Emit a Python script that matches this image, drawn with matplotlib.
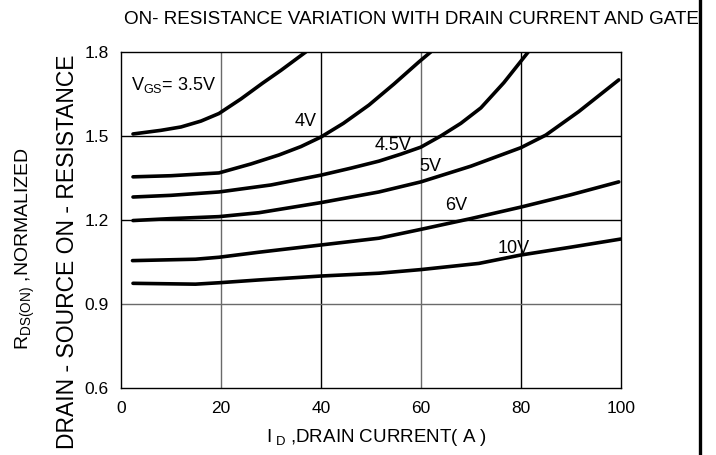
import matplotlib
matplotlib.use("Agg")
import matplotlib.pyplot as plt

plt.rcParams['font.family'] = ['Liberation Sans', 'DejaVu Sans']
plt.rcParams['mathtext.fontset'] = 'custom'
plt.rcParams['mathtext.rm'] = 'Liberation Sans'
plt.rcParams['mathtext.it'] = 'Liberation Sans'

# drain current (A) / normalized R_DS(on)
id_35 = [2.4, 8, 12, 16, 19.6, 24, 28.3, 32, 37]
r_35 = [1.507, 1.52, 1.532, 1.553, 1.58, 1.632, 1.688, 1.734, 1.80]

id_4 = [2.4, 10, 19.6, 26, 31.6, 36, 40, 44.5, 49.6, 54.6, 59.6, 62]
r_4 = [1.354, 1.358, 1.368, 1.40, 1.432, 1.462, 1.496, 1.545, 1.61, 1.685, 1.764, 1.80]

id_45 = [2.4, 10, 19.6, 30, 40, 46, 51.6, 56, 60, 64, 68, 72, 76.6, 81.5]
r_45 = [1.282, 1.288, 1.30, 1.325, 1.36, 1.385, 1.41, 1.435, 1.46, 1.50, 1.545, 1.60, 1.69, 1.80]

id_5 = [2.4, 10, 19.6, 27.6, 40, 51.6, 60, 70, 80, 85, 91.6, 99.6]
r_5 = [1.198, 1.205, 1.212, 1.226, 1.262, 1.30, 1.336, 1.392, 1.458, 1.503, 1.587, 1.70]

id_6 = [2.3, 14.9, 19.6, 27.6, 40.1, 51.6, 59.6, 70, 80, 90, 99.6]
r_6 = [1.055, 1.060, 1.067, 1.085, 1.111, 1.135, 1.165, 1.205, 1.246, 1.29, 1.336]

id_10 = [2.4, 14.9, 19.6, 27.6, 40, 51.6, 60, 71.6, 80, 90, 100]
r_10 = [0.974, 0.971, 0.976, 0.986, 1.0, 1.010, 1.023, 1.045, 1.075, 1.103, 1.132]

curves = [(id_35, r_35), (id_4, r_4), (id_45, r_45), (id_5, r_5), (id_6, r_6), (id_10, r_10)]

labels = [r'V$_{\mathrm{GS}}$= 3.5V', '4V', '4.5V', '5V', '6V', '10V']
label_x = [2, 37, 54.5, 61.8, 67, 78.5]
label_y = [1.68, 1.55, 1.465, 1.39, 1.25, 1.10]

x_ticks = [0, 20, 40, 60, 80, 100]
y_ticks = [0.6, 0.9, 1.2, 1.5, 1.8]

fig = plt.figure(figsize=(7.16, 4.55), dpi=100)
ax = fig.add_axes([0.169, 0.147, 0.698, 0.739])

# grid, some lines black and some grey like the scan
for xv, c in zip([20, 40, 60, 80], ['#6a6a6a', 'black', '#6a6a6a', 'black']):
    ax.axvline(xv, color=c, lw=1, zorder=1)
for yv, c in zip([0.9, 1.2, 1.5], ['#6a6a6a', 'black', 'black']):
    ax.axhline(yv, color=c, lw=1, zorder=1)

for xs, ys in curves:
    ax.plot(xs, ys, color='black', lw=2.6, solid_capstyle='round', zorder=3)

for t, lx, ly in zip(labels, label_x, label_y):
    ax.text(lx, ly, t, fontsize=13, ha='left' if lx < 10 else 'center', va='center', zorder=4)

ax.set_xlim(0, 100)
ax.set_ylim(0.6, 1.8)
ax.set_xticks(x_ticks)
ax.set_yticks(y_ticks)
ax.set_yticklabels(['%.1f' % v for v in y_ticks])
ax.tick_params(length=0, labelsize=12.5, pad=9)
for s in ax.spines.values():
    s.set_color('black')
    s.set_linewidth(1)

fig.text(124 / 716, 1 - 20 / 455, 'ON- RESISTANCE VARIATION WITH DRAIN CURRENT AND GATE',
         fontsize=13.6, ha='left', va='center')
fig.text(376 / 716, 1 - 438 / 455, r'$\mathrm{I_{{\ }D}}$ ,DRAIN CURRENT( A )',
         fontsize=13.5, ha='center', va='center')
fig.text(68 / 716, 1 - 252 / 455, 'DRAIN - SOURCE ON - RESISTANCE',
         fontsize=16.5, rotation=90, ha='center', va='center')
fig.text(25 / 716, 1 - 248 / 455, r'$\mathrm{R_{DS(ON)}}$ ,NORMALIZED',
         fontsize=14, rotation=90, ha='center', va='center')

# thick frame line on the right edge
fig.add_artist(plt.Line2D([700 / 716, 700 / 716], [0, 1], color='black', lw=2.4))

fig.savefig('out.png', dpi=100)
